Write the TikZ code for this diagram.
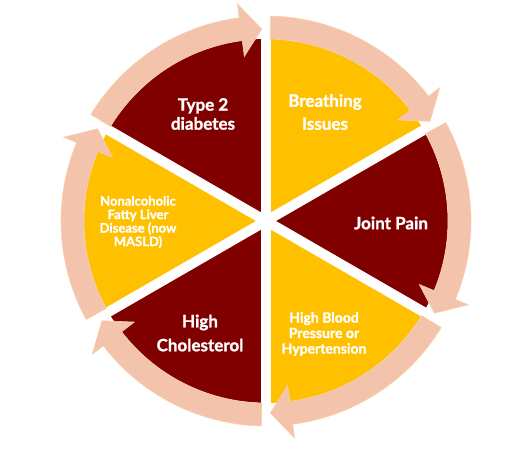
\documentclass[tikz,border=0pt]{standalone}
\usepackage{fontspec}
\setmainfont{Lato}[BoldFeatures={FakeBold=1.3}]
\usetikzlibrary{calc}
\definecolor{wine}{RGB}{128,0,0}
\definecolor{amber}{RGB}{255,192,0}
\definecolor{salmon}{RGB}{243,195,171}
\definecolor{salmonedge}{RGB}{248,208,172}

\begin{document}
\begin{tikzpicture}[x=1pt,y=1pt,
  gap/.style={white, line width=10pt},
  band/.style={fill=salmon, draw=salmonedge, line width=0.6pt},
  txt/.style={white, align=center, font=\bfseries\fontsize{17}{19}\selectfont}]
  \useasboundingbox (0,0) rectangle (530,448);
  \coordinate (c) at (266,227);
  % pie sectors
  \foreach \a/\col in {30/amber, -30/wine, -90/amber, -150/wine, 150/amber, 90/wine}
    \fill[\col] (c) -- ++(\a:182) arc[start angle=\a, end angle=\a+60, radius=182] -- cycle;
  % white gaps between sectors
  \foreach \a in {30,90,...,330}
    \draw[gap] (c) -- ++(\a:184);
  % circular arrows, clockwise
  \foreach \a in {30,-30,-90,-150,150,90}
    \filldraw[band] ($(c)+({\a+58.7}:205)$) arc[start angle=\a+58.7, end angle=\a+7.5, radius=205]
      -- ($(c)+({\a+7.5}:219)$) -- ($(c)+({\a+1.3}:192)$) -- ($(c)+({\a+7.5}:166)$)
      -- ($(c)+({\a+7.5}:182)$) arc[start angle=\a+7.5, end angle=\a+58.7, radius=182] -- cycle;
  % labels
  \node[txt] (diabetes) at (203,334) {Type 2\\diabetes};
  \node[txt, font=\bfseries\fontsize{17}{23}\selectfont] (breathing) at (325,336) {Breathing\\Issues};
  \node[txt] (joint) at (391,225) {Joint Pain};
  \node[txt, font=\bfseries\fontsize{14}{15.5}\selectfont] (pressure) at (324,114) {High Blood\\Pressure or\\Hypertension};
  \node[txt, font=\bfseries\fontsize{17}{24}\selectfont] (cholesterol) at (200,115) {High\\Cholesterol};
  \node[txt, font=\bfseries\fontsize{13}{13.5}\selectfont] (nafld) at (138,226) {Nonalcoholic\\Fatty Liver\\Disease (now\\MASLD)};
\end{tikzpicture}
\end{document}
